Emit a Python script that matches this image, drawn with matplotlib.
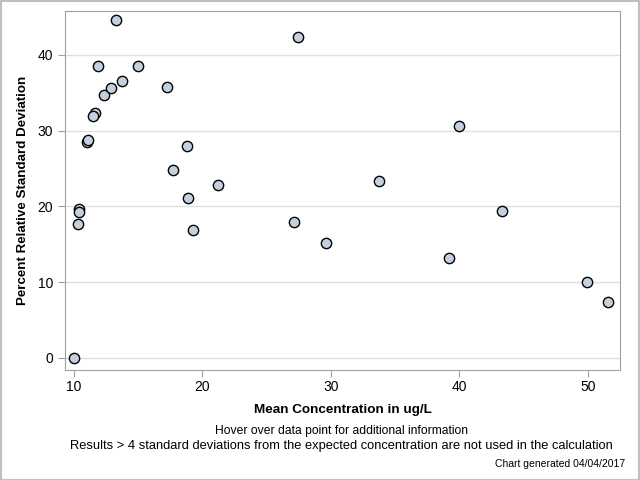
import matplotlib.pyplot as plt
from matplotlib.patches import Rectangle

plt.rcParams['font.family'] = ['Liberation Sans', 'DejaVu Sans']

# mean concentration (ug/L) and percent RSD
mean_conc = [10.0, 10.4, 10.4, 10.3, 11.0, 11.1, 11.6, 11.5, 11.9, 12.3,
             12.9, 13.3, 13.7, 15.0, 17.2, 17.7, 18.8, 18.9, 19.3, 21.2,
             27.1, 27.4, 29.6, 33.7, 39.2, 40.0, 43.3, 49.9, 51.6]
pct_rsd = [0.0, 19.7, 19.3, 17.7, 28.5, 28.8, 32.4, 32.0, 38.6, 34.7,
           35.7, 44.6, 36.5, 38.6, 35.8, 24.8, 28.0, 21.1, 16.9, 22.9,
           18.0, 42.4, 15.2, 23.4, 13.2, 30.6, 19.4, 10.0, 7.4]
x_ticks = [10, 20, 30, 40, 50]
y_ticks = [0, 10, 20, 30, 40]

fig = plt.figure(figsize=(6.4, 4.8), dpi=100)
ax = fig.add_axes([0.1016, 0.229, 0.8672, 0.748])

ax.scatter(mean_conc, pct_rsd, s=55, facecolor='#c5d0df',
           edgecolor='black', linewidth=1.0, zorder=3)

ax.set_xlim(9.3, 52.5)
ax.set_ylim(-1.6, 45.8)
ax.set_xticks(x_ticks)
ax.set_yticks(y_ticks)
ax.grid(axis='y', color='#e0e0e0', linewidth=1.0, zorder=0)
ax.set_axisbelow(True)

for s in ax.spines.values():
    s.set_color('#a0a0a0')
ax.tick_params(colors='#a0a0a0', labelcolor='black', labelsize=10, length=5)
ax.tick_params(axis='x', pad=2.5)

ax.set_xlabel('Mean Concentration in ug/L', fontsize=9.7, fontweight='bold',
              labelpad=7)
ax.set_ylabel('Percent Relative Standard Deviation', fontsize=9.6,
              fontweight='bold', labelpad=6)

fig.text(0.534, 1 - 431 / 480, 'Hover over data point for additional information',
         ha='center', va='center', fontsize=8.7)
fig.text(0.533, 1 - 446 / 480,
         'Results > 4 standard deviations from the expected concentration '
         'are not used in the calculation', ha='center', va='center', fontsize=9.3)
fig.text(0.977, 1 - 464 / 480, 'Chart generated 04/04/2017',
         ha='right', va='center', fontsize=7.5)

# outer frame around the whole chart
fig.patches.append(Rectangle((0.001, 0.001), 0.997, 0.997, transform=fig.transFigure,
                             fill=False, edgecolor='#c0c0c0', linewidth=1.5))

fig.savefig('out.png', dpi=100)
